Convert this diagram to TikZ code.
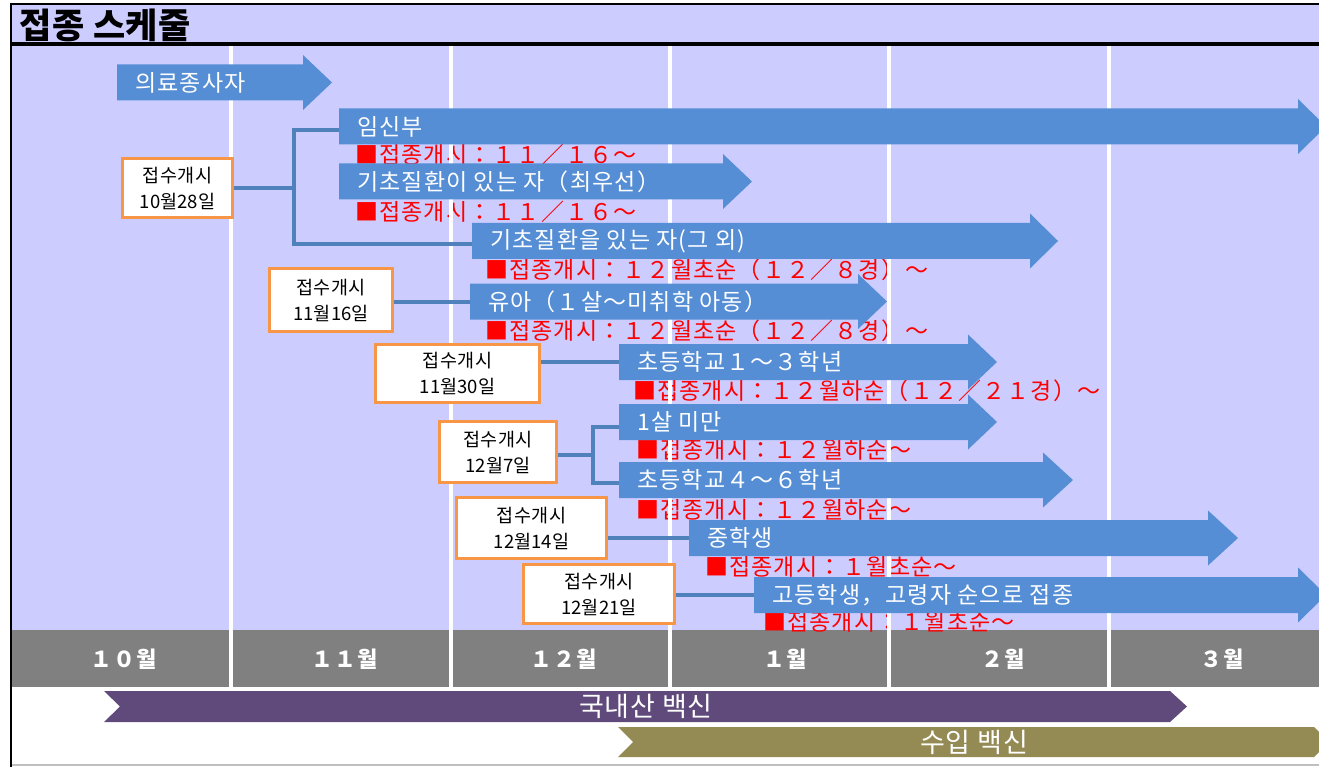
\documentclass[tikz,border=0pt]{standalone}
\usepackage{fontspec}
\setmainfont{Noto Sans CJK KR}
\newfontfamily\krs[LetterSpace=5]{Noto Sans CJK KR}
\newfontfamily\krb[LetterSpace=3]{Noto Sans CJK KR}
\newfontfamily\krm[LetterSpace=5]{Noto Sans CJK KR}
\newfontfamily\krv[LetterSpace=3]{Noto Sans CJK KR}
\newfontfamily\krt[LetterSpace=2]{Noto Sans CJK KR}
\definecolor{lav}{RGB}{204,204,255}
\definecolor{arrowblue}{RGB}{85,142,213}
\definecolor{connblue}{RGB}{79,129,189}
\definecolor{orng}{RGB}{247,150,70}
\definecolor{mgray}{RGB}{128,128,128}
\definecolor{vpurple}{RGB}{96,74,123}
\definecolor{volive}{RGB}{148,138,84}
\newcommand\barw[5]{%
  \fill[arrowblue] (#2,#5-18) -- (#3,#5-18) -- (#3,#5-27.5) -- (#4,#5) -- (#3,#5+27.5) -- (#3,#5+18) -- (#2,#5+18) -- cycle;
  \coordinate (#1) at (#2,#5);}
\begin{document}
\begin{tikzpicture}[x=1pt,y=-1pt,
  conn/.style={draw=connblue,line width=4pt},
  obox/.style={draw=orng,line width=3pt,fill=white,align=center,inner sep=0pt,font=\fontsize{18.5}{26}\selectfont},
  atext/.style={anchor=west,inner sep=0pt,text=white,font=\krs\fontsize{23}{23}\selectfont},
  rtext/.style={anchor=west,inner sep=0pt,text=red,font=\krs\fontsize{23}{23}\selectfont},
  mlabel/.style={inner sep=0pt,text=white,font=\krm\bfseries\fontsize{22}{22}\selectfont},
  vlabel/.style={inner sep=0pt,text=white,font=\krv\fontsize{27}{27}\selectfont},
  wline/.style={draw=white,line width=4pt}]
\useasboundingbox (0,0) rectangle (1319,767);
\clip (0,0) rectangle (1319,767);
% background
\fill[white] (0,0) rectangle (1319,767);
\fill[lav] (12,5) rectangle (1319,630);
\fill[mgray] (12,630) rectangle (1319,687);
\draw[black,line width=2pt] (10,4) -- (1319,4);
\draw[black,line width=2pt] (11,3) -- (11,767);
\draw[black,line width=4pt] (12,44) -- (1319,44);
\draw[gray!50,line width=1.5pt] (12,765) -- (1319,765);
% title
\node[anchor=west,inner sep=0pt,font=\krt\bfseries\fontsize{35}{35}\selectfont] (title) at (19,25) {접종 스케줄};
% red start texts
\node[rtext] (r2) at (355,155) {■접종개시：１１／１６～};
\node[rtext] (r3) at (355,212) {■접종개시：１１／１６～};
\node[rtext] (r4) at (485,270) {■접종개시：１２월초순（１２／８경）～};
\node[rtext] (r5) at (485,331) {■접종개시：１２월초순（１２／８경）～};
\node[rtext] (r6) at (633,391) {■접종개시：１２월하순（１２／２１경）～};
\node[rtext] (r7) at (636,450) {■접종개시：１２월하순～};
\node[rtext] (r8) at (636,510) {■접종개시：１２월하순～};
\node[rtext] (r9) at (705,567) {■접종개시：１월초순～};
\node[rtext] (r10) at (763,622) {■접종개시：１월초순～};
% month separators
\foreach \xx in {231,451,670,889,1109} \draw[wline] (\xx,46) -- (\xx,687);
% month labels
\node[mlabel] (m10) at (124,659) {１０월};
\node[mlabel] (m11) at (345,659) {１１월};
\node[mlabel] (m12) at (564,659) {１２월};
\node[mlabel] (m1) at (785,659) {１월};
\node[mlabel] (m2) at (1003,659) {２월};
\node[mlabel] (m3) at (1222,659) {３월};
% arrows
\barw{a1}{117}{303}{332}{82.5}
\barw{a2}{339}{1298}{1326}{126.5}
\barw{a3}{339}{723}{752}{181.5}
\barw{a4}{472}{1030}{1058}{241}
\barw{a5}{470}{858}{887}{301.5}
\barw{a6}{619}{968}{997}{362}
\barw{a7}{619}{968}{997}{422}
\barw{a8}{619}{1043}{1073}{480}
\barw{a9}{689}{1208}{1238}{538}
\barw{a10}{754}{1298}{1326}{595}
\node[atext] (t1) at (135,82.5) {의료종사자};
\node[atext] (t2) at (357,126.5) {임신부};
\node[atext] (t3) at (357,181.5) {기초질환이 있는 자（최우선）};
\node[atext] (t4) at (490,241) {기초질환을 있는 자(그 외)};
\node[atext] (t5) at (488,301.5) {유아（１살～미취학 아동）};
\node[atext] (t6) at (637,362) {초등학교１～３학년};
\node[atext] (t7) at (637,422) {1살 미만};
\node[atext] (t8) at (637,480) {초등학교４～６학년};
\node[atext] (t9) at (707,538) {중학생};
\node[atext] (t10) at (772,595) {고등학생，고령자 순으로 접종};
% boxes
\node[obox,minimum width=110,minimum height=59] (bA) at (177.5,188) {{\krb 접수개시}\\10월28일};
\node[obox,minimum width=123,minimum height=63] (bB) at (331,300) {{\krb 접수개시}\\11월16일};
\node[obox,minimum width=164,minimum height=58] (bC) at (457.5,373.5) {{\krb 접수개시}\\11월30일};
\node[obox,minimum width=117,minimum height=61] (bD) at (498,452) {{\krb 접수개시}\\12월7일};
\node[obox,minimum width=150,minimum height=61] (bE) at (531.5,528) {{\krb 접수개시}\\12월14일};
\node[obox,minimum width=151,minimum height=59] (bF) at (599,594) {{\krb 접수개시}\\12월21일};
% connectors
\coordinate (jA) at (294,188);
\coordinate (jD) at (593,455);
\draw[conn] (bA.east) -- (jA);
\draw[conn] ([yshift=-3.5pt]a2) -| (jA) |- ([yshift=-3pt]a4);
\draw[conn] (bB.east |- a5) -- (a5);
\draw[conn] (bC.east |- a6) -- (a6);
\draw[conn] (bD.east |- jD) -- (jD);
\draw[conn] ([yshift=-5pt]a7) -| (jD) |- ([yshift=-3pt]a8);
\draw[conn] (bE.east |- a9) -- (a9);
\draw[conn] (bF.east |- a10) -- (a10);
% vaccine bars
\fill[vpurple] (104,691) -- (1170,691) -- (1187,706.5) -- (1170,722) -- (104,722) -- (120,706.5) -- cycle;
\node[vlabel] (v1) at (646,706.5) {국내산 백신};
\fill[volive] (618,727) -- (1314,727) -- (1329,742) -- (1314,757) -- (618,757) -- (633,742) -- cycle;
\node[vlabel] (v2) at (974,742) {수입 백신};
\end{tikzpicture}
\end{document}
